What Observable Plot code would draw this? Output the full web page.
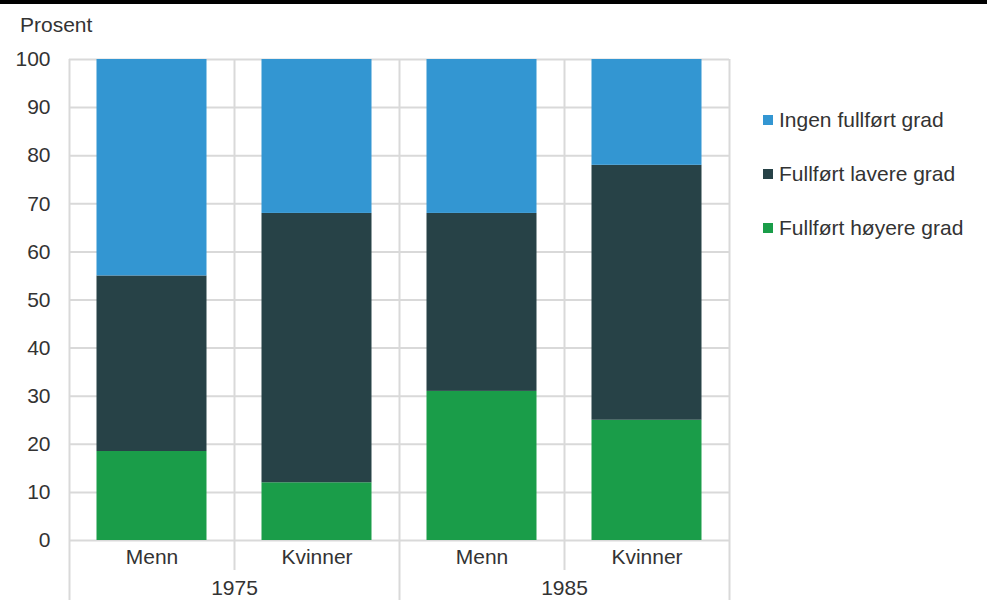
<!DOCTYPE html>
<html>
<head>
<meta charset="utf-8">
<script src="https://cdn.jsdelivr.net/npm/d3@7"></script>
<script src="https://cdn.jsdelivr.net/npm/@observablehq/plot@0.6"></script>
<style>
  body { margin: 0; background: #fff; font-family: "Liberation Sans", Arial, sans-serif; }
  #wrap { position: relative; width: 987px; height: 607px; overflow: hidden; }
  #topbar { position: absolute; left: 0; top: 0; width: 987px; height: 4px; background: #000; }
  #unit { position: absolute; left: 20px; top: 13px; font-size: 21px; color: #333; }
  #legend { position: absolute; left: 763px; top: 107px; font-size: 21px; color: #333; }
  .item { display: flex; align-items: center; height: 26px; margin-bottom: 28px; white-space: nowrap; }
  .sw { width: 10px; height: 10px; margin-right: 6px; }
  svg text { fill: #333; }
</style>
</head>
<body>
<div id="wrap">
  <div id="topbar"></div>
  <div id="unit">Prosent</div>
  <div id="legend"></div>
</div>
<script>
const sexes = ["Menn", "Kvinner", "Menn", "Kvinner"];
const years = ["1975", "1975", "1985", "1985"];
const series = ["Fullført høyere grad", "Fullført lavere grad", "Ingen fullført grad"];
const colors = ["#1a9d49", "#274247", "#3396d2"];
const hoyere = [18.5, 12, 31, 25];
const lavere = [36.5, 56, 37, 53];
const ingen = [45, 32, 32, 22];
const yTicks = [0, 10, 20, 30, 40, 50, 60, 70, 80, 90, 100];
const yearLabels = ["1975", "1985"];

const valuesBySeries = [hoyere, lavere, ingen];
const rows = [];
sexes.forEach((s, i) => {
  let base = 0;
  valuesBySeries.forEach((vals, k) => {
    rows.push({x1: i, x2: i + 1, y1: base, y2: base + vals[i], series: series[k], sex: s, year: years[i]});
    base += vals[i];
  });
});
const barLabels = sexes.map((s, i) => ({x: i + 0.5, text: s}));
const yearPos = yearLabels.map(y => {
  const idx = years.map((v, i) => v === y ? i : -1).filter(i => i >= 0);
  return {x: (d3.min(idx) + d3.max(idx) + 1) / 2, text: y};
});
const seps = d3.range(0, sexes.length + 1);
const groupSeps = seps.filter(i => i === 0 || i === sexes.length || years[i] !== years[i - 1]);
const innerSeps = seps.filter(i => !groupSeps.includes(i));

const grid = "#d9d9d9";
const fs = 21;
const chart = Plot.plot({
  width: 987,
  height: 607,
  marginLeft: 69,
  marginRight: 258,
  marginTop: 59,
  marginBottom: 67,
  style: {fontFamily: "Liberation Sans, Arial, sans-serif", fontSize: fs + "px", background: "transparent"},
  x: {domain: [0, sexes.length], axis: null},
  y: {domain: [0, 100], axis: null},
  color: {domain: series, range: colors},
  marks: [
    Plot.ruleY(yTicks, {y: d => d, stroke: grid, strokeWidth: 2}),
    Plot.ruleX(seps, {x: d => d, y1: 100, y2: 0, stroke: grid, strokeWidth: 2}),
    Plot.ruleX(groupSeps, {x: d => d, y1: 0, y2: 0, insetBottom: -60, stroke: grid, strokeWidth: 2}),
    Plot.ruleX(innerSeps, {x: d => d, y1: 0, y2: 0, insetBottom: -30, stroke: grid, strokeWidth: 2}),
    Plot.rectY(rows, {x1: "x1", x2: "x2", y1: "y1", y2: "y2", fill: "series", insetLeft: 27.5, insetRight: 27.5}),
    Plot.text(yTicks, {x: 0, y: d => d, text: d => String(d), textAnchor: "end", dx: -19, fontSize: fs}),
    Plot.text(barLabels, {x: "x", y: 0, text: "text", dy: 17, fontSize: fs}),
    Plot.text(yearPos, {x: "x", y: 0, text: "text", dy: 48, fontSize: fs})
  ]
});
document.getElementById("wrap").prepend(chart);

const legend = document.getElementById("legend");
[...series].reverse().forEach((s) => {
  const k = series.indexOf(s);
  const item = document.createElement("div");
  item.className = "item";
  const sw = document.createElement("span");
  sw.className = "sw";
  sw.style.background = colors[k];
  const t = document.createElement("span");
  t.textContent = s;
  item.appendChild(sw);
  item.appendChild(t);
  legend.appendChild(item);
});
</script>
</body>
</html>
